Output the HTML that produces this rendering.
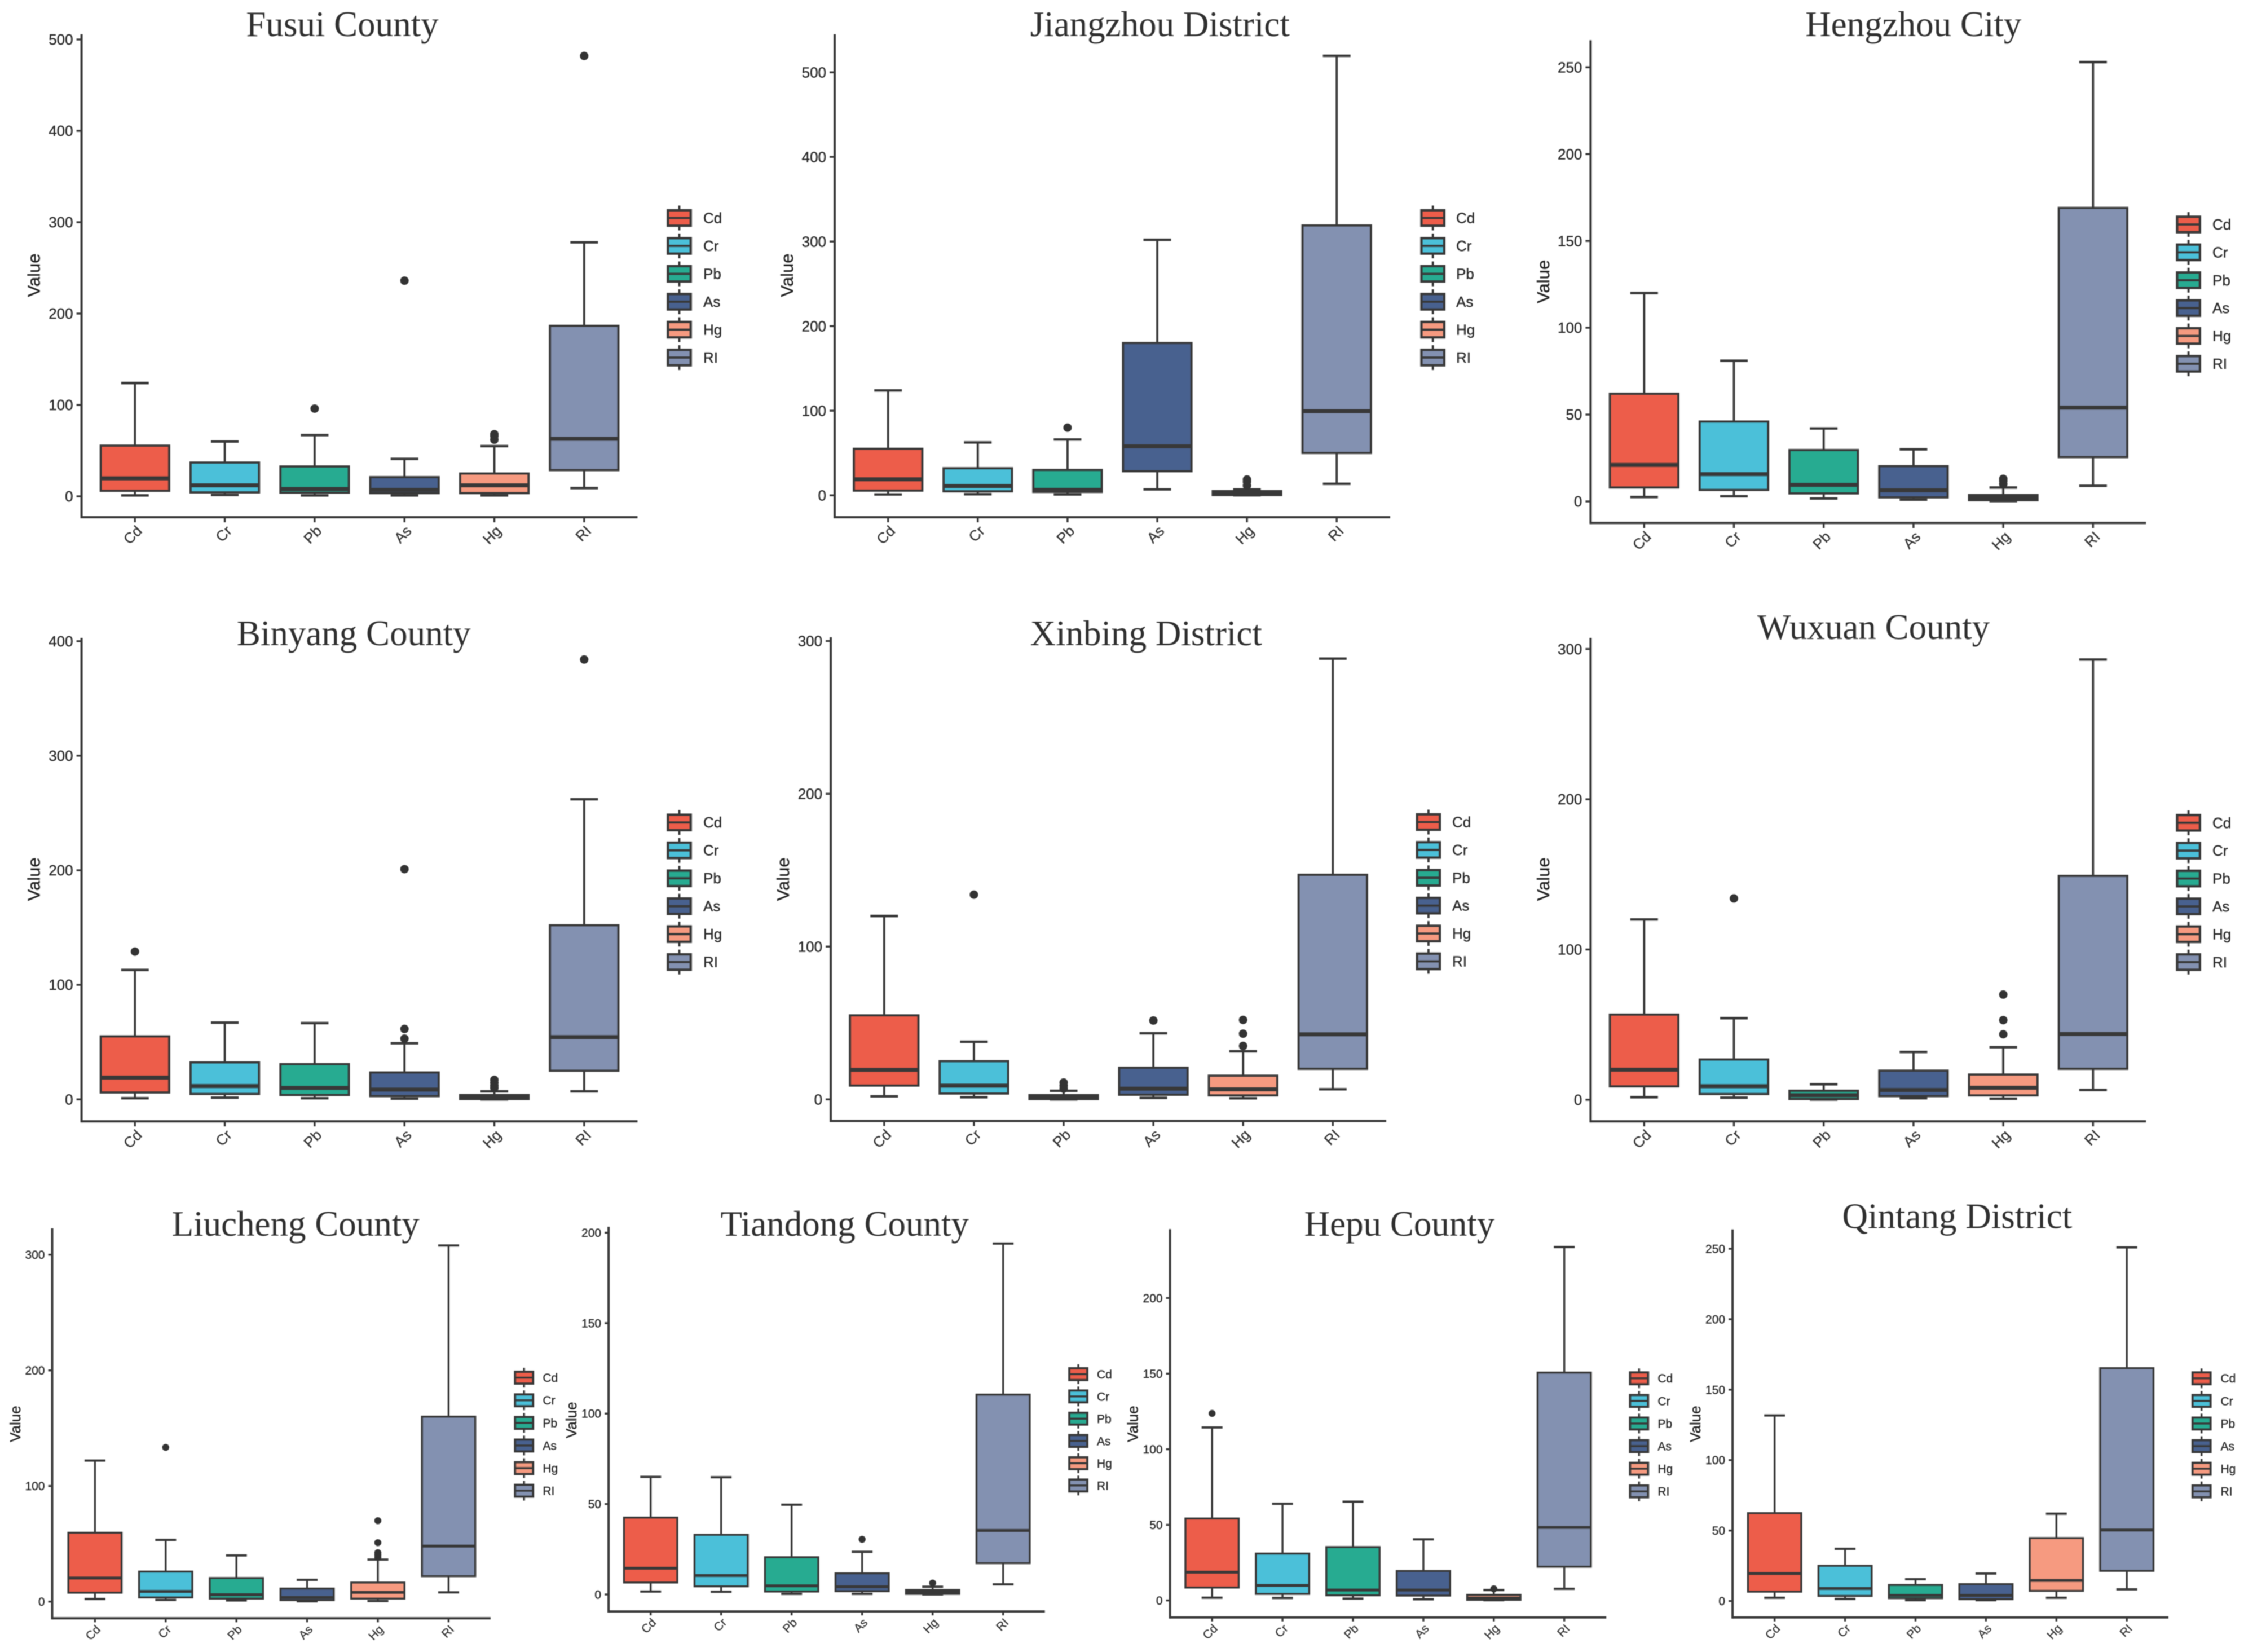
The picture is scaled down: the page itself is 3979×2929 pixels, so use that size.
<!DOCTYPE html>
<html lang="en">
<head>
<meta charset="utf-8">
<title>Box plots of heavy metal values by county and district</title>
<style>
html,body{margin:0;padding:0;background:#fff;}
#figure{display:block;width:3979px;height:2929px;background:#fff;filter:blur(0.7px);}
</style>
</head>
<body>
<svg id="figure" xmlns="http://www.w3.org/2000/svg" width="3979" height="2929" viewBox="0 0 3979 2929"></svg>
<script>
const categories = ['Cd','Cr','Pb','As','Hg','RI'];
const seriesColors = ['#ED5D4A','#4BC0D9','#27AB91','#48618F','#F69A80','#8391B1'];

const fusuiTicks = [0,100,200,300,400,500];
const fusuiLow = [1,1.5,1,1,1,9];
const fusuiQ1 = [6,4.3,4,3.5,3.5,28.7];
const fusuiMedian = [19.7,12,8,7,12,63];
const fusuiQ3 = [55.5,37,32.7,21,25,186.6];
const fusuiHigh = [124,60,67,41,55,278];
const fusuiOutliers = [[],[],[96],[236],[62,66,68],[482]];

const jiangzhouTicks = [0,100,200,300,400,500];
const jiangzhouLow = [1,1.3,1,7,0,13.6];
const jiangzhouQ1 = [5.5,4.7,4,28.5,0.3,50];
const jiangzhouMedian = [19,11,6.5,58,2,99.5];
const jiangzhouQ3 = [55,32,30,180,5,319];
const jiangzhouHigh = [124,62.5,66,302,7,519.5];
const jiangzhouOutliers = [[],[],[80],[],[11.5,16,18.7],[]];

const hengzhouTicks = [0,50,100,150,200,250];
const hengzhouLow = [2.5,3,1.7,1,0.2,9];
const hengzhouQ1 = [8,6.6,4.6,2.3,0.7,25.5];
const hengzhouMedian = [21,15.7,9.5,6.4,2,54];
const hengzhouQ3 = [62,46,29.6,20.3,3.7,169];
const hengzhouHigh = [120,81,42,30,8,253];
const hengzhouOutliers = [[],[],[],[],[10,11.8,13],[]];

const binyangTicks = [0,100,200,300,400];
const binyangLow = [1,1.5,1,0.6,0,7];
const binyangQ1 = [6,4.7,3.8,2.8,0.3,25];
const binyangMedian = [19,11.6,10,8.5,2,54.3];
const binyangQ3 = [55,32.3,30.8,23.5,3.8,152];
const binyangHigh = [113,67,66.6,49,7,262];
const binyangOutliers = [[129],[],[],[53,61.5,201],[10,12,14.5,17],[384]];

const xinbingTicks = [0,100,200,300];
const xinbingLow = [2,1.4,0,1,0.7,6.6];
const xinbingQ1 = [9,3.8,0.2,3,2.6,20];
const xinbingMedian = [19.3,9,1.4,7,6.6,42.6];
const xinbingQ3 = [55,25,2.8,20.7,15.5,147];
const xinbingHigh = [120,37.7,5.6,43.3,31.5,288.5];
const xinbingOutliers = [[],[134],[7,9,11],[51.6],[35,43,52],[]];

const wuxuanTicks = [0,100,200,300];
const wuxuanLow = [1.7,1.4,0.2,1,0.7,6.5];
const wuxuanQ1 = [8.9,3.8,0.5,2.4,2.9,20.6];
const wuxuanMedian = [20,9,3,6.5,8,43.8];
const wuxuanQ3 = [56.7,26.8,6,19.4,16.8,149];
const wuxuanHigh = [120,54.3,10.3,31.8,35,293];
const wuxuanOutliers = [[],[134],[],[],[43.6,53,70],[]];

const liuchengTicks = [0,100,200,300];
const liuchengLow = [2.3,1.5,1,0.3,0.5,8];
const liuchengQ1 = [7.7,3.6,2.6,1.3,2.6,22];
const liuchengMedian = [20.4,8.8,6,3.6,8,48];
const liuchengQ3 = [59.6,26,20.4,11.3,16.5,160];
const liuchengHigh = [122,53.4,40,18.8,36.4,308];
const liuchengOutliers = [[],[133.4],[],[],[38.4,40.5,42.3,51,70],[]];

const tiandongTicks = [0,50,100,150,200];
const tiandongLow = [1.6,1.5,0.3,0.3,0,5.6];
const tiandongQ1 = [6.6,4.5,1.6,1.8,0.3,17.3];
const tiandongMedian = [14.5,10.5,4.8,4.3,1.3,35.4];
const tiandongQ3 = [42.5,33,20.6,11.7,2.5,110.5];
const tiandongHigh = [65,64.8,49.6,23.6,4.3,194];
const tiandongOutliers = [[],[],[],[30.5],[6.3],[]];

const hepuTicks = [0,50,100,150,200];
const hepuLow = [1.8,1.6,1.2,0.8,0.2,7.7];
const hepuQ1 = [8.5,4.3,3.4,3.2,0.4,22.3];
const hepuMedian = [18.7,9.9,6.9,6.9,1.6,48.3];
const hepuQ3 = [54.2,31,35.3,19.5,3.7,150.7];
const hepuHigh = [114.4,63.9,65.3,40.4,6.9,233.7];
const hepuOutliers = [[123.7],[],[],[],[7.7],[]];

const qintangTicks = [0,50,100,150,200,250];
const qintangLow = [2.3,1.5,0.6,0.6,2.3,8.3];
const qintangQ1 = [6.6,3.6,2,1.3,7.2,21.4];
const qintangMedian = [19.5,8.9,4,4,14.6,50.4];
const qintangQ3 = [62.4,25,11.4,12,44.7,165.3];
const qintangHigh = [131.7,37,15.5,19.5,62,251];
const qintangOutliers = [[],[],[],[],[],[]];

const large = {tickFont:26, valueFont:31, legendFont:26, catFont:26, boxW:121.4, capW:49, keyW:40.5, keyH:27.4, keyWhisker:40, catDx:14, catDy:26, tickLen:9, stroke:3.8, medianW:7, dotR:7.5, legendDy:9};
const small = {tickFont:21, valueFont:26, legendFont:21, catFont:21, boxW:94.5, capW:37, keyW:32, keyH:21, keyWhisker:31, catDx:11, catDy:21, tickLen:7, stroke:3.4, medianW:5, dotR:6.2, legendDy:7.5};

const panels = [
 {slug:'fusui', title:'Fusui County', ticks:fusuiTicks, low:fusuiLow, q1:fusuiQ1, median:fusuiMedian, q3:fusuiQ3, high:fusuiHigh, outliers:fusuiOutliers,
  frame:{axisX:144.6, top:60.6, bottom:917, right:1130.4, y0:880, unit:1.62, cat0:239.3, step:159.3, legX:1204.5, legY:386.5, legStep:49.5, legText:1247, valX:60, valY:488, titleX:607, titleY:64}, style:large},
 {slug:'jiangzhou', title:'Jiangzhou District', ticks:jiangzhouTicks, low:jiangzhouLow, q1:jiangzhouQ1, median:jiangzhouMedian, q3:jiangzhouQ3, high:jiangzhouHigh, outliers:jiangzhouOutliers,
  frame:{axisX:1480, top:60.6, bottom:917, right:2465, y0:878.2, unit:1.5, cat0:1574.7, step:159.1, legX:2540.7, legY:386.5, legStep:49.5, legText:2582, valX:1395.6, valY:488, titleX:2056.8, titleY:64}, style:large},
 {slug:'hengzhou', title:'Hengzhou City', ticks:hengzhouTicks, low:hengzhouLow, q1:hengzhouQ1, median:hengzhouMedian, q3:hengzhouQ3, high:hengzhouHigh, outliers:hengzhouOutliers,
  frame:{axisX:2820.4, top:71.4, bottom:927.3, right:3805.3, y0:889, unit:3.079, cat0:2915.3, step:159.2, legX:3880.6, legY:398, legStep:49.4, legText:3923, valX:2736.4, valY:499.4, titleX:3392.8, titleY:64}, style:large},
 {slug:'binyang', title:'Binyang County', ticks:binyangTicks, low:binyangLow, q1:binyangQ1, median:binyangMedian, q3:binyangQ3, high:binyangHigh, outliers:binyangOutliers,
  frame:{axisX:144.6, top:1131, bottom:1988.1, right:1130.4, y0:1949.2, unit:2.031, cat0:239.3, step:159.3, legX:1204.5, legY:1458.2, legStep:49.5, legText:1247, valX:60, valY:1558.9, titleX:627.2, titleY:1143.8}, style:large},
 {slug:'xinbing', title:'Xinbing District', ticks:xinbingTicks, low:xinbingLow, q1:xinbingQ1, median:xinbingMedian, q3:xinbingQ3, high:xinbingHigh, outliers:xinbingOutliers,
  frame:{axisX:1473.1, top:1129.7, bottom:1987.5, right:2458, y0:1949.2, unit:2.709, cat0:1567.8, step:159.1, legX:2532.9, legY:1457.5, legStep:49.4, legText:2575, valX:1388.7, valY:1558.9, titleX:2032.3, titleY:1143.8}, style:large},
 {slug:'wuxuan', title:'Wuxuan County', ticks:wuxuanTicks, low:wuxuanLow, q1:wuxuanQ1, median:wuxuanMedian, q3:wuxuanQ3, high:wuxuanHigh, outliers:wuxuanOutliers,
  frame:{axisX:2820.4, top:1131, bottom:1988.1, right:3805.3, y0:1949.9, unit:2.664, cat0:2915.3, step:159.2, legX:3880.6, legY:1458.8, legStep:49.4, legText:3923, valX:2736.4, valY:1558.9, titleX:3322, titleY:1132.9}, style:large},
 {slug:'liucheng', title:'Liucheng County', ticks:liuchengTicks, low:liuchengLow, q1:liuchengQ1, median:liuchengMedian, q3:liuchengQ3, high:liuchengHigh, outliers:liuchengOutliers,
  frame:{axisX:92.5, top:2177.7, bottom:2869.3, right:869.9, y0:2839.7, unit:2.05, cat0:168.4, step:125.4, legX:929.2, legY:2442.6, legStep:40.1, legText:962.4, valX:26.8, valY:2524.6, titleX:524.2, titleY:2190.9}, style:small},
 {slug:'tiandong', title:'Tiandong County', ticks:tiandongTicks, low:tiandongLow, q1:tiandongQ1, median:tiandongMedian, q3:tiandongQ3, high:tiandongHigh, outliers:tiandongOutliers,
  frame:{axisX:1079.1, top:2175.1, bottom:2857.1, right:1852.7, y0:2827, unit:3.207, cat0:1153.7, step:125, legX:1912, legY:2436.3, legStep:39.5, legText:1945, valX:1012.8, valY:2517.7, titleX:1497.8, titleY:2190.9}, style:small},
 {slug:'hepu', title:'Hepu County', ticks:hepuTicks, low:hepuLow, q1:hepuQ1, median:hepuMedian, q3:hepuQ3, high:hepuHigh, outliers:hepuOutliers,
  frame:{axisX:2074.6, top:2179.3, bottom:2867.7, right:2848.2, y0:2837.6, unit:2.681, cat0:2149.2, step:124.9, legX:2906.3, legY:2443.7, legStep:40.1, legText:2939.4, valX:2008.3, valY:2524.6, titleX:2481.5, titleY:2190.9}, style:small},
 {slug:'qintang', title:'Qintang District', ticks:qintangTicks, low:qintangLow, q1:qintangQ1, median:qintangMedian, q3:qintangQ3, high:qintangHigh, outliers:qintangOutliers,
  frame:{axisX:3072.1, top:2179.8, bottom:2867.7, right:3845, y0:2838.6, unit:2.498, cat0:3146.7, step:124.9, legX:3903.7, legY:2443.7, legStep:40.1, legText:3937.5, valX:3005.8, valY:2524.6, titleX:3470.4, titleY:2177.7}, style:small}
];

const INK = '#383838';
const SANS = '"Liberation Sans", Arial, sans-serif';
const SERIF = '"Liberation Serif", "Times New Roman", serif';
const svgNS = 'http://www.w3.org/2000/svg';
const root = document.getElementById('figure');

function make(parent, tag, attrs, text) {
  const node = document.createElementNS(svgNS, tag);
  for (const key in attrs) node.setAttribute(key, attrs[key]);
  if (text !== undefined) node.textContent = text;
  parent.appendChild(node);
  return node;
}

function seg(parent, x1, y1, x2, y2, width) {
  return make(parent, 'line', {x1:x1, y1:y1, x2:x2, y2:y2, stroke:INK, 'stroke-width':width});
}

function drawPanel(p) {
  const f = p.frame, s = p.style;
  const yScale = v => f.y0 - v * f.unit;
  const xScale = i => f.cat0 + i * f.step;

  const g = make(root, 'g', {});
  
  

  const title = make(g, 'text', {x:f.titleX, y:f.titleY, 'text-anchor':'middle', 'font-family':SERIF, 'font-size':63, fill:'#2f2f2f'}, p.title);
  
  

  const yAxis = seg(g, f.axisX, f.top, f.axisX, f.bottom + 2, 4);
  
  

  const xAxis = seg(g, f.axisX, f.bottom, f.right, f.bottom, 4);
  
  

  const yTitle = make(g, 'text', {x:0, y:0, transform:'translate(' + f.valX + ' ' + f.valY + ') rotate(-90)', 'text-anchor':'middle', 'dominant-baseline':'central', 'font-family':SANS, 'font-size':s.valueFont, fill:'#222', stroke:'#222', 'stroke-width':0.4}, 'Value');
  
  

  p.ticks.forEach(v => {
    const y = yScale(v);
    const mark = seg(g, f.axisX - s.tickLen, y, f.axisX, y, 3.4);
    
    
    const label = make(g, 'text', {x:f.axisX - s.tickLen - 6, y:y + s.tickFont * 0.35, 'text-anchor':'end', 'font-family':SANS, 'font-size':s.tickFont, fill:'#2b2b2b', stroke:'#2b2b2b', 'stroke-width':0.4}, String(v));
    
    
  });

  categories.forEach((cat, i) => {
    const cx = xScale(i);
    const key = cat.toLowerCase();

    const mark = seg(g, cx, f.bottom, cx, f.bottom + s.tickLen, 3.4);
    
    

    const ax = cx + s.catDx, ay = f.bottom + s.catDy;
    const label = make(g, 'text', {x:ax, y:ay, transform:'rotate(-45 ' + ax + ' ' + ay + ')', 'text-anchor':'end', 'font-family':SANS, 'font-size':s.catFont, fill:'#333', stroke:'#333', 'stroke-width':0.3}, cat);
    
    

    const box = make(g, 'g', {});
    
    

    const yLow = yScale(p.low[i]), yQ1 = yScale(p.q1[i]), yMed = yScale(p.median[i]), yQ3 = yScale(p.q3[i]), yHigh = yScale(p.high[i]);

    seg(box, cx, yHigh, cx, yQ3, s.stroke);
    seg(box, cx, yQ1, cx, yLow, s.stroke);
    seg(box, cx - s.capW / 2, yHigh, cx + s.capW / 2, yHigh, s.stroke + 0.6);
    seg(box, cx - s.capW / 2, yLow, cx + s.capW / 2, yLow, s.stroke + 0.6);
    make(box, 'rect', {x:cx - s.boxW / 2, y:yQ3, width:s.boxW, height:Math.max(yQ1 - yQ3, 0.5), fill:seriesColors[i], stroke:INK, 'stroke-width':s.stroke});
    seg(box, cx - s.boxW / 2, yMed, cx + s.boxW / 2, yMed, s.medianW);

    p.outliers[i].forEach(v => {
      const dot = make(box, 'circle', {cx:cx, cy:yScale(v), r:s.dotR, fill:'#333'});
      
      
    });

    const ly = f.legY + i * f.legStep;
    const entry = make(g, 'g', {});
    
    
    seg(entry, f.legX, ly - s.keyWhisker / 2 - 2, f.legX, ly + s.keyWhisker / 2 + 2, s.stroke);
    make(entry, 'rect', {x:f.legX - s.keyW / 2, y:ly - s.keyH / 2, width:s.keyW, height:s.keyH, fill:seriesColors[i], stroke:INK, 'stroke-width':s.stroke + 0.4});
    seg(entry, f.legX - s.keyW / 2, ly, f.legX + s.keyW / 2, ly, s.stroke);
    make(entry, 'text', {x:f.legText, y:ly + s.legendDy, 'font-family':SANS, 'font-size':s.legendFont, fill:'#2b2b2b', stroke:'#2b2b2b', 'stroke-width':0.4}, cat);
  });
}

panels.forEach(drawPanel);
</script>
</body>
</html>
